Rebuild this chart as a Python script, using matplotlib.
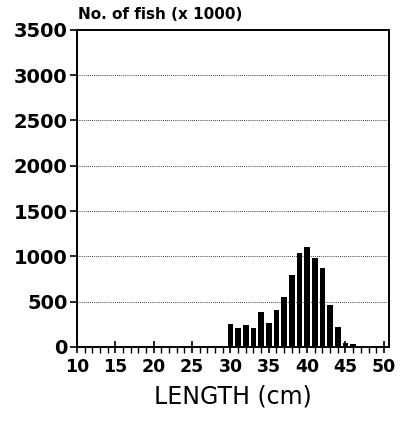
import matplotlib.pyplot as plt
from matplotlib.ticker import MultipleLocator

lengths = [30, 31, 32, 33, 34, 35, 36, 37, 38, 39, 40, 41, 42, 43, 44, 45, 46]
fish_counts = [255, 208, 245, 208, 383, 259, 405, 555, 792, 1040, 1099, 985, 869, 467, 215, 44, 29]
x_ticks = [10, 15, 20, 25, 30, 35, 40, 45, 50]
y_ticks = [0, 500, 1000, 1500, 2000, 2500, 3000, 3500]

plt.rcParams["font.family"] = ["DejaVu Sans"]

fig = plt.figure(figsize=(4.08, 4.21), dpi=100)
ax = fig.add_axes([0.189, 0.176, 0.764, 0.753])

for y in y_ticks[1:-1]:
    ax.axhline(y, color="black", linestyle=(0, (1, 1.5)), linewidth=0.6, zorder=0)

ax.bar(lengths, fish_counts, width=0.75, color="black", zorder=2)

ax.set_xlim(10, 50.65)
ax.set_ylim(0, 3500)
ax.set_xticks(x_ticks)
ax.set_yticks(y_ticks)
ax.xaxis.set_minor_locator(MultipleLocator(1))
ax.tick_params(axis="x", which="major", direction="inout", length=8, width=1.2,
               labelsize=12.5, pad=4)
ax.tick_params(axis="x", which="minor", direction="out", length=4, width=1.0)
ax.tick_params(axis="y", which="major", direction="out", length=5, width=1.2,
               labelsize=14, pad=2)
for label in ax.get_xticklabels() + ax.get_yticklabels():
    label.set_fontweight("bold")

for spine in ax.spines.values():
    spine.set_linewidth(1.4)

ax.set_xlabel("LENGTH (cm)", fontsize=17, labelpad=6)
fig.text(0.191, 0.955, "No. of fish (x 1000)", fontsize=11, fontweight="bold",
         va="baseline")

fig.savefig("out.png", dpi=100)
plt.close(fig)
